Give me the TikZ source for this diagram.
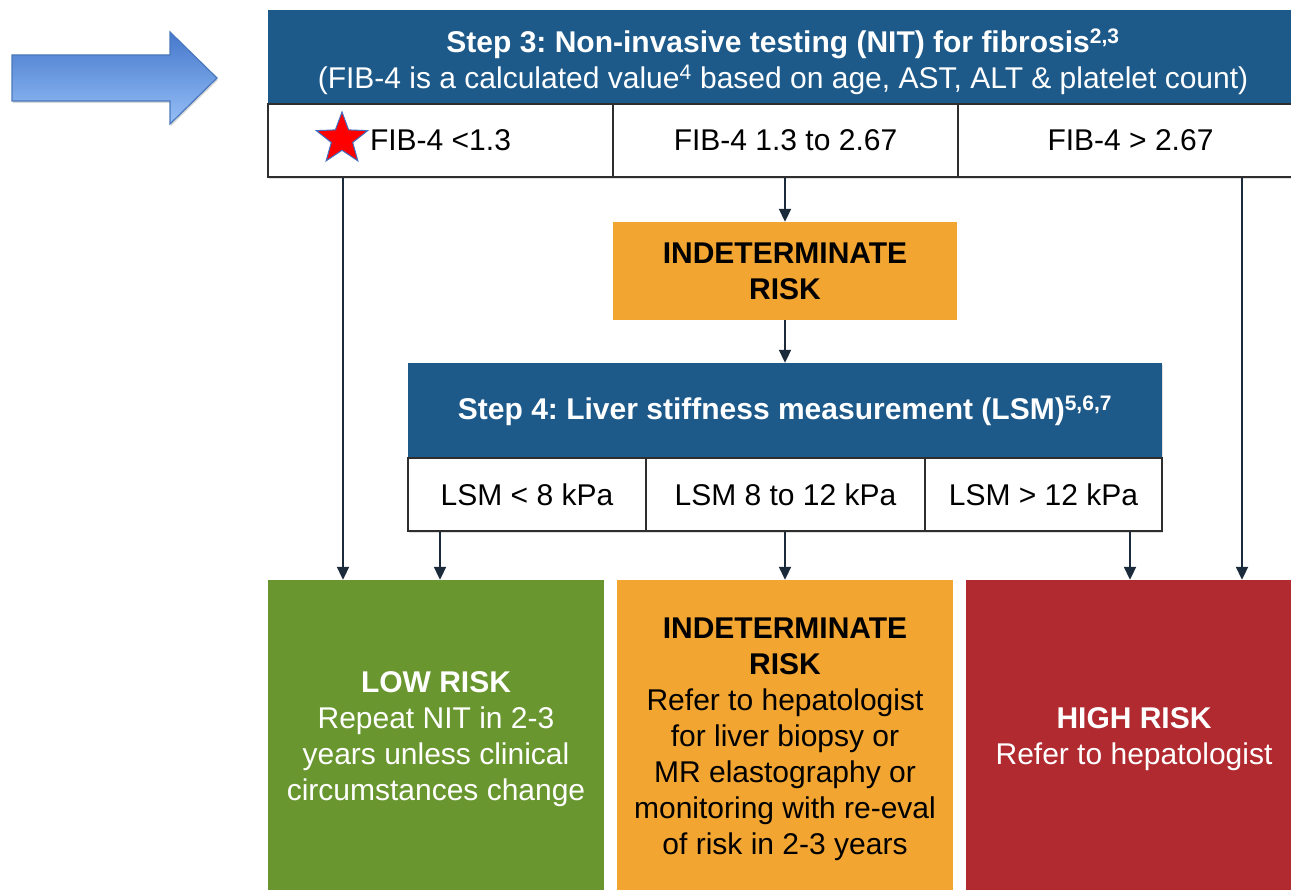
\documentclass[tikz,border=0pt]{standalone}
\usepackage{fontspec}
\setmainfont{Liberation Sans}
\frenchspacing
\usetikzlibrary{shapes.geometric,arrows.meta,shadows}
\definecolor{hdrblue}{HTML}{1D5A8A}
\definecolor{lowgreen}{HTML}{69962F}
\definecolor{midorange}{HTML}{F2A531}
\definecolor{highred}{HTML}{B02A30}
\definecolor{cellline}{HTML}{2E2E2E}
\definecolor{arrline}{HTML}{1C2B3C}
\definecolor{bigarrtop}{HTML}{4678CC}
\definecolor{bigarrbot}{HTML}{95BFF6}
\definecolor{bigarrline}{HTML}{4A78BC}
\definecolor{starblue}{HTML}{3D6FC0}
\begin{document}
\begin{tikzpicture}[x=1pt,y=-1pt,
  txt/.style={font=\fontsize{30}{36}\selectfont, align=center, inner sep=0pt},
  hdr/.style={rectangle, fill=hdrblue, text=white, txt, font=\fontsize{30}{36}\selectfont\bfseries, drop shadow={shadow xshift=1pt,shadow yshift=-2pt,opacity=0.25}},
  cell/.style={rectangle, fill=white, draw=cellline, line width=1.5pt, txt, minimum height=73pt, drop shadow={shadow xshift=1pt,shadow yshift=-2pt,opacity=0.25}},
  result/.style={rectangle, txt, minimum height=318pt, minimum width=336pt},
  arr/.style={draw=arrline, line width=2pt, -{Triangle[width=12pt,length=13pt]}}
]
\clip (0,0) rectangle (1291,890);
\fill[white] (0,0) rectangle (1291,890);

% big arrow
\shade[top color=bigarrtop, bottom color=bigarrbot, draw=bigarrline, line width=1.2pt, drop shadow={shadow xshift=1pt,shadow yshift=-2pt,opacity=0.3}]
  (12,55) -- (170,55) -- (170,32) -- (217,78) -- (170,124) -- (170,101) -- (12,101) -- cycle;

% Step 3 header
\node[hdr, minimum width=1032pt, minimum height=94pt] (hdr3) at (784,57) {};
\node[txt, text=white, font=\fontsize{30}{36}\selectfont\bfseries] (hdr3t) at (783,62)
  {Step 3: Non-invasive testing (NIT) for fibrosis\textsuperscript{2,3}\\
   \mdseries(FIB-4 is a calculated value\textsuperscript{4} based on age, AST, ALT \& platelet count)};

\node[cell, minimum width=345pt] (fibA) at (440.5,140.5) {FIB-4 <1.3};
\node[cell, minimum width=345pt] (fibB) at (785.5,140.5) {FIB-4 1.3 to 2.67};
\node[cell, minimum width=345pt] (fibC) at (1130.5,140.5) {FIB-4 > 2.67};

\node[star, star points=5, star point ratio=2.4, fill=red, draw=starblue, line width=1pt, inner sep=0pt, minimum size=54pt] (star) at (342,139) {};

% indeterminate
\node[rectangle, fill=midorange, txt, font=\fontsize{30}{36}\selectfont\bfseries, minimum width=344pt, minimum height=98pt] (ind) at (785,271) {INDETERMINATE\\RISK};

% Step 4 header
\node[hdr, minimum width=754pt, minimum height=95pt] (hdr4) at (785,410.5)
  {Step 4: Liver stiffness measurement (LSM)\textsuperscript{5,6,7}};

\node[cell, minimum width=238pt] (lsmA) at (527,494.5) {LSM < 8 kPa};
\node[cell, minimum width=279pt] (lsmB) at (785.5,494.5) {LSM 8 to 12 kPa};
\node[cell, minimum width=237pt] (lsmC) at (1043.5,494.5) {LSM > 12 kPa};

% results
\node[result, fill=lowgreen, text=white] (low) at (436,739)
  {\textbf{LOW RISK}\\Repeat NIT in 2-3\\years unless clinical\\circumstances change};
\node[result, fill=midorange, text=black] (mid) at (785,739)
  {\textbf{INDETERMINATE}\\\textbf{RISK}\\Refer to hepatologist\\for liver biopsy or\\MR elastography or\\monitoring with re-eval\\of risk in 2-3 years};
\node[result, fill=highred, text=white] (high) at (1134,739)
  {\textbf{HIGH RISK}\\Refer to hepatologist};

% connectors
\coordinate (xL) at (343,0);
\coordinate (xR) at (1242,0);
\coordinate (xLa) at (440,0);
\coordinate (xLc) at (1130,0);
\draw[arr] (fibA.south -| xL) -- (low.north -| xL);
\draw[arr] (fibB.south -| ind.north) -- (ind.north);
\draw[arr] (ind.south) -- (hdr4.north -| ind.south);
\draw[arr] (fibC.south -| xR) -- (high.north -| xR);
\draw[arr] (lsmA.south -| xLa) -- (low.north -| xLa);
\draw[arr] (lsmB.south -| mid.north) -- (mid.north);
\draw[arr] (lsmC.south -| xLc) -- (high.north -| xLc);
\end{tikzpicture}
\end{document}
